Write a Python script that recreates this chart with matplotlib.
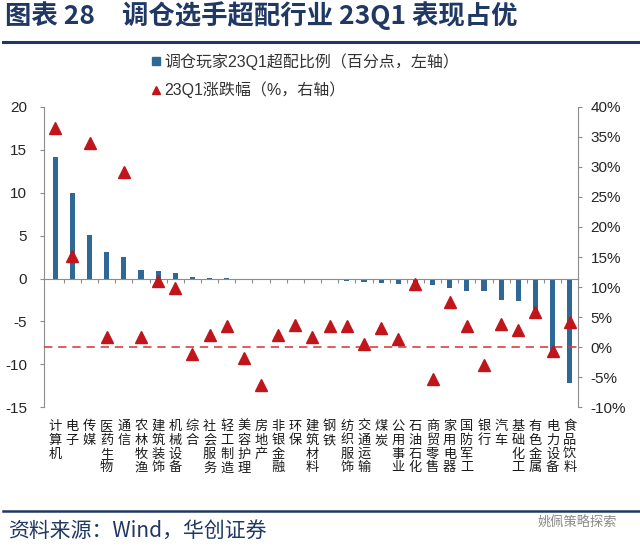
import matplotlib
matplotlib.use("Agg")
from matplotlib import pyplot as plt
from matplotlib.lines import Line2D
from matplotlib.ticker import FuncFormatter
import numpy as np

plt.rcParams['font.family'] = ['Liberation Sans', 'Noto Sans CJK SC', 'DejaVu Sans']
plt.rcParams['axes.unicode_minus'] = False

## data
industries = ['计算机', '电子', '传媒', '医药生物', '通信', '农林牧渔', '建筑装饰', '机械设备',
              '综合', '社会服务', '轻工制造', '美容护理', '房地产', '非银金融', '环保', '建筑材料',
              '钢铁', '纺织服饰', '交通运输', '煤炭', '公用事业', '石油石化', '商贸零售', '家用电器',
              '国防军工', '银行', '汽车', '基础化工', '有色金属', '电力设备', '食品饮料']
overweight = [14.2, 9.9, 5.1, 3.1, 2.5, 1.05, 0.85, 0.7,
              0.2, 0.1, 0.05, -0.05, -0.1, -0.15, -0.15, -0.2,
              -0.2, -0.25, -0.4, -0.5, -0.6, -0.7, -0.8, -1.1,
              -1.4, -1.5, -2.5, -2.6, -3.8, -8.7, -12.2]
returns_q1 = [36.4, 15.2, 34.0, 1.7, 29.2, 1.7, 11.0, 9.9,
              -1.2, 2.0, 3.6, -1.8, -6.2, 2.1, 3.7, 1.7,
              3.6, 3.6, 0.5, 3.2, 1.4, 10.5, -5.2, 7.6,
              3.6, -2.9, 3.9, 2.8, 5.9, -0.6, 4.2]
left_ticks = [-15, -10, -5, 0, 5, 10, 15, 20]
right_ticks = [-10, -5, 0, 5, 10, 15, 20, 25, 30, 35, 40]

bar_color = '#2E6896'
tri_color = '#C0161B'
navy = '#1F3864'
axis_gray = '#8C8C8C'

fig = plt.figure(figsize=(6.4, 5.49), dpi=100)
ax = fig.add_axes([44 / 640, 1 - 407.4 / 549, (578 - 44) / 640, 300.7 / 549])
ax2 = ax.twinx()

x = np.arange(len(industries))
ax.bar(x, overweight, width=0.3, color=bar_color, zorder=2)
ax.set_xlim(-0.653, 30.48)
ax.set_ylim(-15, 20)
ax.set_yticks(left_ticks)

for s in ['top', 'right']:
    ax.spines[s].set_visible(False)
ax.spines['left'].set_color(axis_gray)
ax.spines['bottom'].set_position(('data', 0))
ax.spines['bottom'].set_color(axis_gray)
ax.set_xticks(np.arange(0.5, len(industries) - 1))
ax.tick_params(axis='x', direction='out', length=3, color=axis_gray, labelbottom=False)
ax.tick_params(axis='y', direction='out', length=3, color=axis_gray, labelsize=11,
               labelcolor='#262626', pad=9)

for i, name in enumerate(industries):
    ax.text(i, -0.042, "\n".join(name), transform=ax.get_xaxis_transform(),
            ha='center', va='top', fontsize=9.5, linespacing=1.08,
            family=['Noto Sans CJK SC'], color='#1a1a1a')

ax2.plot(x, returns_q1, linestyle='none', marker='^', markersize=8, color=tri_color,
         markeredgecolor=tri_color, zorder=3)
ax2.axhline(0, color='#D9413F', linestyle=(0, (5, 3.5)), linewidth=1.2, zorder=1)
ax2.set_ylim(-10, 40)
ax2.set_yticks(right_ticks)
ax2.yaxis.set_major_formatter(FuncFormatter(lambda v, p: f"{v:.0f}%"))
for s in ['top', 'left', 'bottom']:
    ax2.spines[s].set_visible(False)
ax2.spines['right'].set_color(axis_gray)
ax2.tick_params(axis='y', direction='out', length=3, color=axis_gray, labelsize=11,
                labelcolor='#262626', pad=6)

handles = [Line2D([], [], linestyle='none', marker='s', markersize=6, color=bar_color),
           Line2D([], [], linestyle='none', marker='^', markersize=6, color=tri_color)]
labels = ['调仓玩家23Q1超配比例（百分点，左轴）', '23Q1涨跌幅（%，右轴）']
fig.legend(handles, labels, loc='upper left', bbox_to_anchor=(150 / 640, 1 - 53 / 549),
           frameon=False, fontsize=11.5, handlelength=0.8, handletextpad=0.1,
           labelspacing=0.75, borderpad=0, borderaxespad=0, labelcolor='#333333')

## title, rules and source
fig.text(5 / 640, 1 - 16 / 549, '图表 28', fontsize=19,
         fontweight='bold', color=navy, va='center', ha='left',
         family=['Noto Sans CJK SC', 'DejaVu Sans'])
fig.text(122 / 640, 1 - 16 / 549, '调仓选手超配行业 23Q1 表现占优', fontsize=19,
         fontweight='bold', color=navy, va='center', ha='left',
         family=['Noto Sans CJK SC', 'DejaVu Sans'])
fig.add_artist(Line2D([3 / 640, 1], [1 - 42 / 549] * 2, transform=fig.transFigure,
                      color=navy, linewidth=2.2))
fig.add_artist(Line2D([3 / 640, 1], [1 - 511 / 549] * 2, transform=fig.transFigure,
                      color=navy, linewidth=1.8))
fig.text(8 / 640, 1 - 531 / 549, '资料来源：Wind，华创证券', fontsize=15, style='italic',
         color=navy, va='center', ha='left', family=['Noto Sans CJK SC', 'DejaVu Sans'])
fig.text(538 / 640, 1 - 522 / 549, '姚佩策略探索', fontsize=9.5, color='#8a8a8a',
         va='center', ha='left', family=['Noto Sans CJK SC'])

fig.savefig('out.png', dpi=100)
